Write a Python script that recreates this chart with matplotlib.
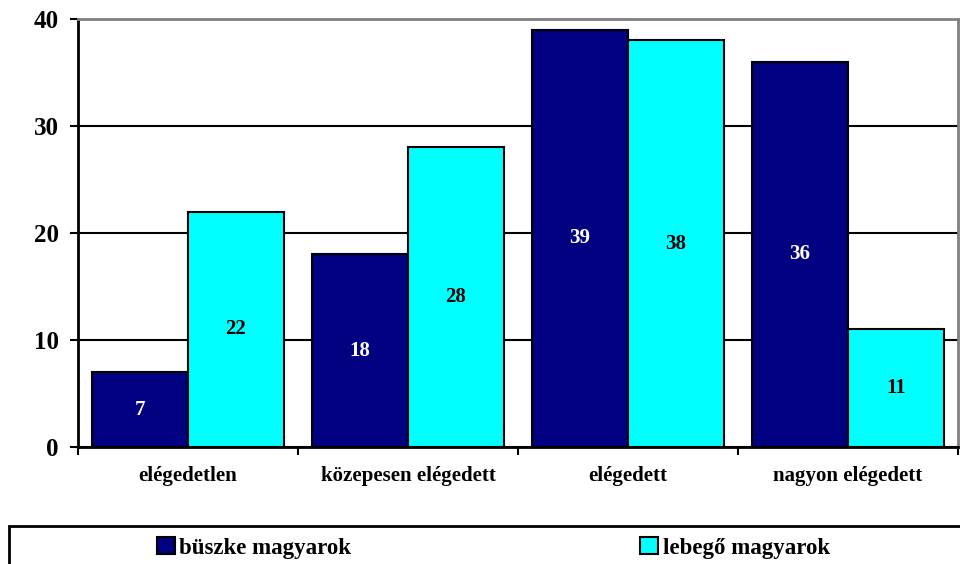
import matplotlib
matplotlib.use("Agg")
import matplotlib.pyplot as plt
from matplotlib.patches import Rectangle
import numpy as np

categories = ["elégedetlen", "közepesen elégedett", "elégedett", "nagyon elégedett"]
series_names = ["büszke magyarok", "lebegő magyarok"]
buszke = [7, 18, 39, 36]
lebego = [22, 28, 38, 11]
yticks = [0, 10, 20, 30, 40]

plt.rcParams['font.family'] = ['Liberation Serif', 'DejaVu Serif']
plt.rcParams['font.weight'] = 'bold'

fig = plt.figure(figsize=(9.6, 5.64), dpi=100)
ax = fig.add_axes([78/960, (564-447)/564, (958-78)/960, (447-19)/564])

x = np.arange(len(categories))
w = 0.436
b1 = ax.bar(x - w/2, buszke, w, color="#000080", edgecolor="black", linewidth=1.5, zorder=3, label=series_names[0])
b2 = ax.bar(x + w/2, lebego, w, color="#00FFFF", edgecolor="black", linewidth=1.5, zorder=3, label=series_names[1])

for rect, v in zip(b1, buszke):
    ax.text(rect.get_x() + rect.get_width()/2, v/2, str(v), ha="center", va="center",
            color="white", fontsize=15, fontweight="bold", zorder=4)
for rect, v in zip(b2, lebego):
    ax.text(rect.get_x() + rect.get_width()/2, v/2, str(v), ha="center", va="center",
            color="black", fontsize=15, fontweight="bold", zorder=4)

ax.set_xlim(-0.5, len(categories) - 0.5)
ax.set_ylim(0, 40)
ax.set_yticks(yticks)
ax.set_yticklabels([str(t) for t in yticks], fontsize=18, fontweight="bold")
ax.yaxis.grid(True, color="black", linewidth=1.5, zorder=0)
ax.set_axisbelow(True)

ax.set_xticks(np.arange(-0.5, len(categories)), minor=False)
ax.set_xticklabels([])
ax.set_xticks(x, minor=True)
ax.set_xticklabels(categories, minor=True, fontsize=15, fontweight="bold")
ax.tick_params(axis="x", which="minor", length=0, pad=14)
ax.tick_params(axis="x", which="major", length=6, width=1.5, direction="out")
ax.tick_params(axis="y", length=6, width=1.5, direction="out", pad=8)

for s in ["left", "bottom"]:
    ax.spines[s].set_color("black")
    ax.spines[s].set_linewidth(2)
for s in ["top", "right"]:
    ax.spines[s].set_color("#808080")
    ax.spines[s].set_linewidth(2)

# legend frame
frame = Rectangle((9/960, -0.05), 1.0, (564-526)/564 + 0.05, transform=fig.transFigure,
                  facecolor="white", edgecolor="black", linewidth=2, zorder=1)
fig.patches.append(frame)

leg = fig.legend(handles=[b1, b2], labels=series_names, loc="center left", ncol=2,
                 bbox_to_anchor=(157/960, 1 - 548/564),
                 frameon=False, fontsize=16.5,
                 handlelength=0.78, handleheight=0.78, handletextpad=0.2,
                 columnspacing=12.6, borderpad=0, borderaxespad=0)
for t in leg.get_texts():
    t.set_fontweight("bold")
for h in leg.legend_handles:
    h.set_linewidth(1.5)

fig.savefig("out.png", dpi=100)
